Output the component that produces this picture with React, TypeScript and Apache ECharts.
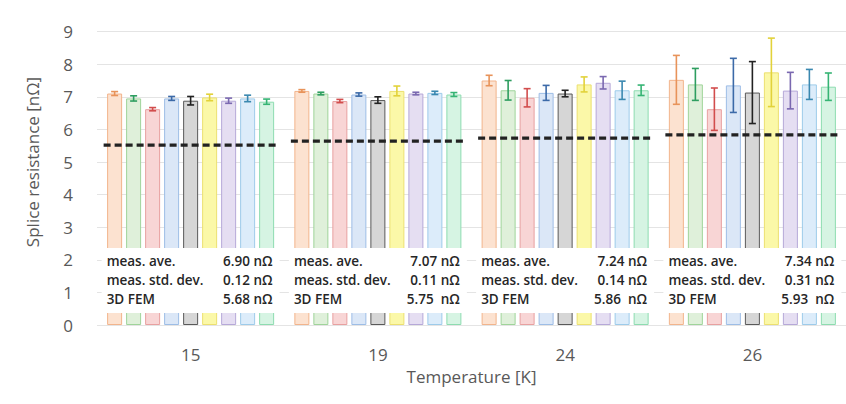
import React, { useEffect, useRef } from 'react';
import * as echarts from 'echarts';

const categories = ['15', '19', '24', '26'];
const yTicks = { min: 0, max: 10, interval: 1 };

// measured mean per splice sample (9 samples) at each temperature
const mean15 = [7.10, 6.95, 6.62, 6.95, 6.88, 6.98, 6.88, 6.95, 6.85];
const mean19 = [7.18, 7.10, 6.87, 7.07, 6.90, 7.18, 7.10, 7.12, 7.07];
const mean24 = [7.50, 7.20, 6.97, 7.12, 7.10, 7.38, 7.43, 7.20, 7.20];
const mean26 = [7.52, 7.38, 6.62, 7.35, 7.13, 7.75, 7.19, 7.38, 7.31];

// error bar half-lengths
const err15 = [0.06, 0.08, 0.05, 0.06, 0.13, 0.10, 0.08, 0.10, 0.08];
const err19 = [0.04, 0.04, 0.05, 0.05, 0.10, 0.15, 0.04, 0.05, 0.06];
const err24 = [0.16, 0.30, 0.28, 0.23, 0.10, 0.23, 0.19, 0.28, 0.16];
const err26 = [0.75, 0.49, 0.65, 0.83, 0.95, 1.05, 0.56, 0.46, 0.42];

// 3D FEM dashed reference line (as drawn)
const femDrawn = [5.52, 5.64, 5.73, 5.83];

// annotation texts
const aveLabels = ['6.90 nΩ', '7.07 nΩ', '7.24 nΩ', '7.34 nΩ'];
const stdLabels = ['0.12 nΩ', '0.11 nΩ', '0.14 nΩ', '0.31 nΩ'];
const femLabels = ['5.68 nΩ', '5.75  nΩ', '5.86  nΩ', '5.93  nΩ'];

const fills = ['#fce2d0', '#dff0da', '#f8d5d5', '#dbe7f7', '#d6d6d6', '#fbf8a8', '#e5def2', '#dcecfa', '#d6f4e3'];
const borders = ['#f2b48c', '#9fd49a', '#e8a0a0', '#9dbde6', '#595959', '#ece070', '#b6a8d8', '#9dcbea', '#8ddcb0'];
const errColors = ['#e8935a', '#2e9e60', '#d24d4d', '#3c6aa8', '#222222', '#e2d23a', '#7a68b0', '#3a88b0', '#36b474'];

const means = [mean15, mean19, mean24, mean26];
const errs = [err15, err19, err24, err26];

const BAR_W = 15;
const BAR_STEP = 19;

export default function App() {
  const ref = useRef<HTMLDivElement>(null);
  useEffect(() => {
    const chart = echarts.init(ref.current!, null, { renderer: 'svg' });
    const nSeries = mean15.length;

    const barSeries = Array.from({ length: nSeries }, (_, si) => ({
      type: 'bar',
      name: 'Sample ' + (si + 1),
      data: means.map((m) => m[si]),
      barWidth: BAR_W,
      barGap: '26.67%',
      z: 2,
      itemStyle: { color: fills[si], borderColor: borders[si], borderWidth: 1 },
    }));

    const errData: number[][] = [];
    means.forEach((m, ci) => m.forEach((v, si) => errData.push([ci, si, v, errs[ci][si]])));

    const errSeries = {
      type: 'custom',
      z: 6,
      encode: { x: 0, y: 2 },
      data: errData,
      renderItem: (params: any, api: any) => {
        const ci = api.value(0);
        const si = api.value(1);
        const m = api.value(2);
        const e = api.value(3);
        const top = api.coord([ci, m + e]);
        const bot = api.coord([ci, m - e]);
        const x = top[0] + (si - 4) * BAR_STEP;
        const st = { stroke: errColors[si], lineWidth: 1.6 };
        return {
          type: 'group',
          children: [
            { type: 'line', shape: { x1: x, y1: top[1], x2: x, y2: bot[1] }, style: st },
            { type: 'line', shape: { x1: x - 3.5, y1: top[1], x2: x + 3.5, y2: top[1] }, style: st },
            { type: 'line', shape: { x1: x - 3.5, y1: bot[1], x2: x + 3.5, y2: bot[1] }, style: st },
          ],
        };
      },
    };

    const boxSeries = {
      type: 'custom',
      z: 4,
      encode: { x: 0, y: 1 },
      data: categories.map((_, ci) => [ci, 0]),
      renderItem: (params: any, api: any) => {
        const ci = api.value(0);
        const base = api.coord([ci, 0]);
        const cx = base[0];
        const by = base[1];
        const font = { fontSize: 13.5, fontFamily: 'Open Sans', fontWeight: 600, fill: '#262626' };
        const rows = [
          ['meas. ave.', aveLabels[ci]],
          ['meas. std. dev.', stdLabels[ci]],
          ['3D FEM', femLabels[ci]],
        ];
        const children: any[] = [
          { type: 'rect', shape: { x: cx - 89, y: by - 77, width: 178, height: 65 }, style: { fill: '#ffffff' } },
        ];
        rows.forEach((r, i) => {
          const y = by - 64 + i * 19;
          children.push({ type: 'text', x: cx - 84, y, style: { ...font, text: r[0], align: 'left', verticalAlign: 'middle' } });
          children.push({ type: 'text', x: cx + 82, y, style: { ...font, text: r[1], align: 'right', verticalAlign: 'middle' } });
        });
        return { type: 'group', children };
      },
    };

    const femSeries = {
      type: 'custom',
      z: 5,
      encode: { x: 0, y: 1 },
      data: femDrawn.map((v, ci) => [ci, v]),
      renderItem: (params: any, api: any) => {
        const p = api.coord([api.value(0), api.value(1)]);
        return {
          type: 'line',
          shape: { x1: p[0] - 87, y1: p[1], x2: p[0] + 87, y2: p[1] },
          style: { stroke: '#222222', lineWidth: 3.2, lineDash: [7, 4] },
        };
      },
    };

    const option: any = {
      animation: false,
      backgroundColor: '#ffffff',
      grid: { left: 97, right: 0, top: -1, bottom: 79, outerBoundsMode: 'none', containLabel: false },
      xAxis: {
        type: 'category',
        data: categories,
        axisLine: { show: false },
        axisTick: { show: false },
        axisLabel: { color: '#595959', fontSize: 17, fontFamily: 'Open Sans', margin: 21 },
        name: 'Temperature [K]',
        nameLocation: 'middle',
        nameGap: 43,
        nameTextStyle: { color: '#595959', fontSize: 17, fontFamily: 'Open Sans' },
      },
      yAxis: {
        type: 'value',
        min: yTicks.min,
        max: yTicks.max,
        interval: yTicks.interval,
        axisLine: { show: false },
        axisTick: { show: false },
        splitLine: { lineStyle: { color: '#e4e4e4', width: 1 } },
        axisLabel: { color: '#595959', fontSize: 17, fontFamily: 'Open Sans', margin: 24, showMaxLabel: false },
        name: 'Splice resistance [nΩ]',
        nameLocation: 'middle',
        nameGap: 56,
        nameTextStyle: { color: '#595959', fontSize: 17, fontFamily: 'Open Sans' },
      },
      series: [...barSeries, boxSeries, femSeries, errSeries],
    };
    chart.setOption(option);
    return () => chart.dispose();
  }, []);
  return <div ref={ref} style={{ position: 'fixed', left: 0, top: 0, width: 846, height: 404 }} />;
}
